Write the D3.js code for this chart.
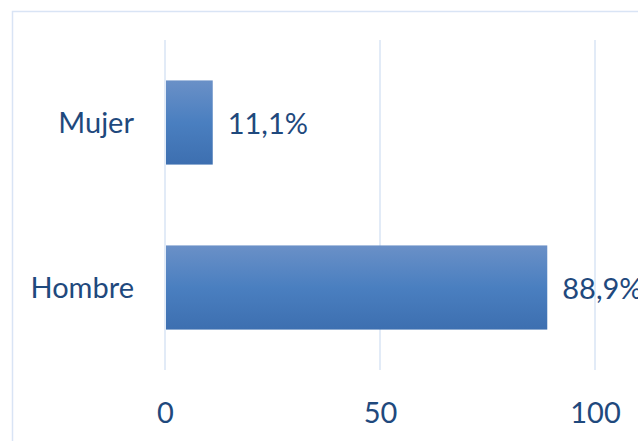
<!DOCTYPE html>
<html>
<head>
<meta charset="utf-8">
<script src="https://cdn.jsdelivr.net/npm/d3@7"></script>
<style>
  html, body { margin: 0; padding: 0; background: #ffffff; }
  svg { display: block; }
  text { font-family: Lato, "Open Sans", sans-serif; fill: #1f497d; }
</style>
</head>
<body>
<svg id="chart" width="638" height="441"></svg>
<script>
// Share of respondents by sex (percent)
const categories = ["Mujer", "Hombre"];
const values = [11.1, 88.9];
const tickValues = [0, 50, 100];
const valueLabels = ["11,1%", "88,9%"];

const width = 638, height = 441;
const plot = { left: 165, right: 595, top: 40, bottom: 370 };
const fontSize = 29;

const svg = d3.select("#chart");

// Chart frame
svg.append("rect")
  .attr("x", 12.5).attr("y", 11.5)
  .attr("width", 700).attr("height", 500)
  .attr("fill", "none")
  .attr("stroke", "#d9e4f5")
  .attr("stroke-width", 1.5);

const x = d3.scaleLinear().domain([0, 100]).range([plot.left, plot.right]);
const y = d3.scaleBand().domain(categories)
  .range([plot.top, plot.bottom])
  .paddingInner(0.49).paddingOuter(0.245);

// Bar fill: vertical gradient, light at the top
const defs = svg.append("defs");
const grad = defs.append("linearGradient")
  .attr("id", "barFill").attr("x1", 0).attr("y1", 0).attr("x2", 0).attr("y2", 1);
grad.append("stop").attr("offset", "0%").attr("stop-color", "#6a90c7");
grad.append("stop").attr("offset", "50%").attr("stop-color", "#4a7fc0");
grad.append("stop").attr("offset", "100%").attr("stop-color", "#3d6fb0");

// Vertical gridlines
svg.append("g")
  .selectAll("line")
  .data(tickValues)
  .join("line")
  .attr("x1", d => x(d)).attr("x2", d => x(d))
  .attr("y1", plot.top).attr("y2", plot.bottom)
  .attr("stroke", "#d9e4f5")
  .attr("stroke-width", 1.5);

// Bars
svg.append("g")
  .selectAll("rect")
  .data(categories)
  .join("rect")
  .attr("x", x(0) + 1)
  .attr("y", d => y(d))
  .attr("width", (d, i) => x(values[i]) - x(0) - 1)
  .attr("height", y.bandwidth())
  .attr("fill", "url(#barFill)");

// Category labels
svg.append("g")
  .selectAll("text")
  .data(categories)
  .join("text")
  .attr("x", 134)
  .attr("y", d => y(d) + y.bandwidth() / 2 + 10)
  .attr("text-anchor", "end")
  .attr("font-size", fontSize)
  .text(d => d);

// Value labels (the last one runs off the right edge of the frame)
svg.append("g")
  .selectAll("text")
  .data(categories)
  .join("text")
  .attr("x", (d, i) => x(values[i]) + 15)
  .attr("y", d => y(d) + y.bandwidth() / 2 + 11)
  .attr("font-size", fontSize)
  .text((d, i) => valueLabels[i]);

// Axis tick labels
const axis = svg.append("g")
  .attr("transform", `translate(0,${plot.bottom})`)
  .call(d3.axisBottom(x).tickValues(tickValues).tickSize(0).tickPadding(32).tickFormat(d3.format("d")));
axis.select(".domain").remove();
axis.selectAll("text")
  .attr("font-size", fontSize)
  .attr("font-family", "Lato, 'Open Sans', sans-serif")
  .attr("fill", "#1f497d");
</script>
</body>
</html>
